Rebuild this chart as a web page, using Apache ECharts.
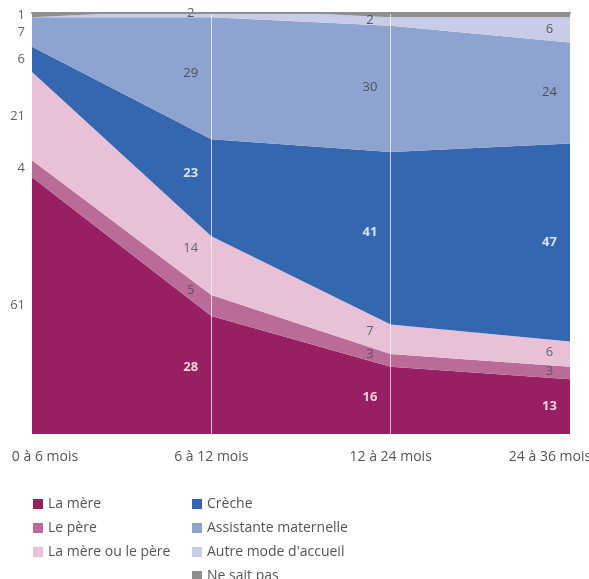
<!DOCTYPE html>
<html><head><meta charset="utf-8">
<script src="https://cdn.jsdelivr.net/npm/echarts@6/dist/echarts.min.js"></script>
<style>html,body{margin:0;padding:0;background:#fff;overflow:hidden}#c{width:589px;height:579px}</style>
</head><body><div id="c"></div>
<script>
const categories = ['0 à 6 mois', '6 à 12 mois', '12 à 24 mois', '24 à 36 mois'];
const laMere = [61, 28, 16, 13];
const lePere = [4, 5, 3, 3];
const mereOuPere = [21, 14, 7, 6];
const creche = [6, 23, 41, 47];
const assistante = [7, 29, 30, 24];
const autre = [0, 2, 2, 6];
const neSaitPas = [1, 0, 1, 1];

const seriesDefs = [
  {name: 'La mère', data: laMere, color: '#981f61', label: '#ffffff', bold: true},
  {name: 'Le père', data: lePere, color: '#bb6b98', label: '#4a4a4a'},
  {name: 'La mère ou le père', data: mereOuPere, color: '#e8c1d6', label: '#4a4a4a'},
  {name: 'Crèche', data: creche, color: '#3567b0', label: '#ffffff', bold: true},
  {name: 'Assistante maternelle', data: assistante, color: '#8fa3d0', label: '#3a3a3a'},
  {name: "Autre mode d'accueil", data: autre, color: '#c7cde8', label: '#3a3a3a'},
  {name: 'Ne sait pas', data: neSaitPas, color: '#8e8e8e', label: '#3a3a3a', firstOnly: true}
];

const FONT = 'Open Sans';
const series = [];
seriesDefs.forEach(function (d, k) {
  series.push({
    name: d.name, type: 'line', stack: 'total', symbol: 'none', smooth: false,
    xAxisIndex: 0,
    lineStyle: {width: 0}, areaStyle: {color: d.color, opacity: 1},
    itemStyle: {color: d.color},
    data: d.data,
    z: 2,
    markLine: k === seriesDefs.length - 1 ? {
      silent: true, symbol: 'none', label: {show: false},
      lineStyle: {color: 'rgba(255,255,255,0.7)', width: 1, type: 'solid'},
      data: [{xAxis: 1}, {xAxis: 2}]
    } : undefined
  });
});

function cumBelow(k, i) {
  let s = 0;
  for (let j = 0; j < k; j++) s += seriesDefs[j].data[i];
  return s;
}
const labelPts = [];
const shift = 0.115;
seriesDefs.forEach(function (d, k) {
  d.data.forEach(function (v, i) {
    if (!(v > 0)) return;
    if (d.firstOnly && i > 0) return;
    let x, y;
    if (i === 0) {
      x = 0; y = cumBelow(k, 0) + v / 2;
    } else {
      const t = 1 - shift;
      x = i - shift;
      const prevMid = cumBelow(k, i - 1) + d.data[i - 1] / 2;
      const curMid = cumBelow(k, i) + v / 2;
      y = prevMid + (curMid - prevMid) * t;
    }
    labelPts.push({
      value: [x, y],
      label: {
        show: true, formatter: String(v),
        position: i === 0 ? 'left' : 'inside',
        distance: 7,
        color: i === 0 ? '#3a3a3a' : d.label,
        fontWeight: (i > 0 && d.bold) ? 'bold' : 'normal',
        fontSize: 13, fontFamily: FONT
      }
    });
  });
});
series.push({
  type: 'scatter', xAxisIndex: 1, symbolSize: 0, data: labelPts, z: 5, silent: true, clip: false,
  itemStyle: {color: 'transparent'}
});

const axisFont = {fontSize: 14, color: '#555', fontFamily: FONT};
const chart = echarts.init(document.getElementById('c'));
chart.setOption({
  animation: false,
  textStyle: {fontFamily: FONT},
  grid: {left: 32, right: 19, top: 13, bottom: 145, containLabel: false, outerBoundsMode: 'none'},
  xAxis: [{
    type: 'category', data: categories, boundaryGap: false,
    axisLine: {show: false}, axisTick: {show: false}, splitLine: {show: false},
    axisLabel: {
      margin: 16, fontSize: 14, color: '#555', fontFamily: FONT,
      formatter: function (v, idx) {
        if (idx === 0) return '{first|' + v + '}';
        if (idx === categories.length - 1) return '{last|' + v + '}';
        return v;
      },
      rich: {
        first: Object.assign({padding: [0, 0, 0, 26]}, axisFont),
        last: Object.assign({padding: [0, 40, 0, 0]}, axisFont)
      }
    }
  }, {
    type: 'value', min: 0, max: 3, position: 'top', z: 10,
    axisLine: {show: true, lineStyle: {color: '#8e8e8e', width: 2}},
    axisTick: {show: false}, axisLabel: {show: false}, splitLine: {show: false}
  }],
  yAxis: {type: 'value', min: 0, max: 100, show: false, splitLine: {show: false}},
  legend: [{
    data: ['La mère', 'Le père', 'La mère ou le père'],
    orient: 'vertical', left: 33, top: 497, height: 100, icon: 'rect', itemWidth: 10, itemHeight: 10,
    itemGap: 10, padding: 0, textStyle: {fontSize: 14, color: '#555', fontFamily: FONT}
  }, {
    data: ['Crèche', 'Assistante maternelle', "Autre mode d'accueil", 'Ne sait pas'],
    orient: 'vertical', left: 192, top: 497, height: 100, icon: 'rect', itemWidth: 10, itemHeight: 10,
    itemGap: 10, padding: 0, textStyle: {fontSize: 14, color: '#555', fontFamily: FONT}
  }],
  series: series
});
</script></body></html>
